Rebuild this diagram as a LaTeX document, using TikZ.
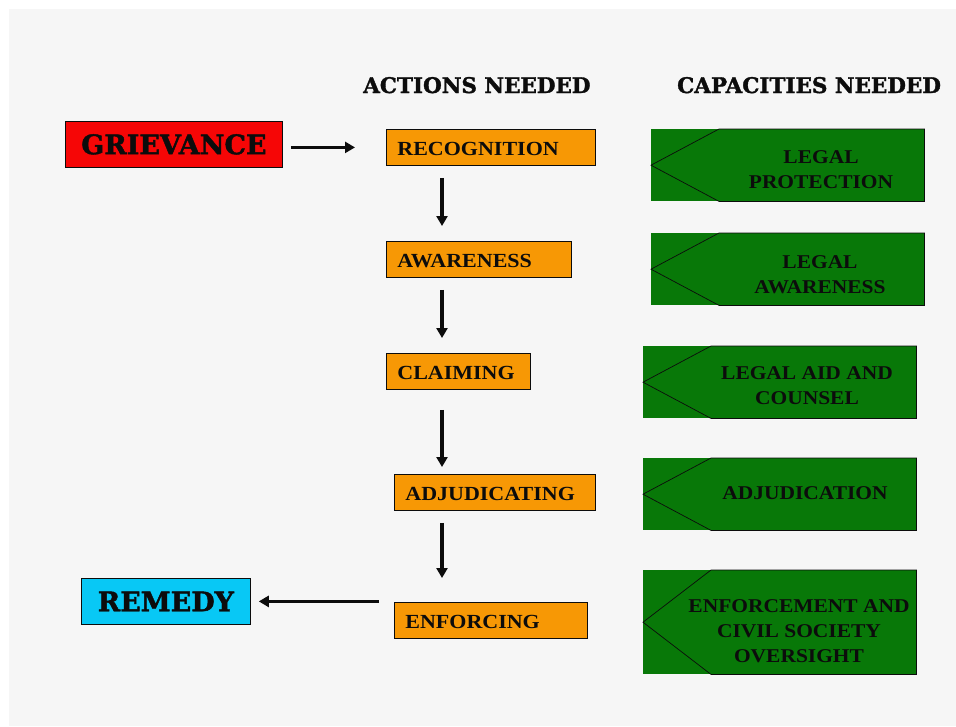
\documentclass[tikz,border=0pt]{standalone}
\usepackage{fontspec}
\usetikzlibrary{calc,arrows.meta}
\newfontfamily\boxfont[FakeStretch=1.1]{Liberation Serif}
\newfontfamily\headfont[FakeBold=1.6]{DejaVu Serif}
\definecolor{bgc}{RGB}{246,246,246}
\definecolor{redc}{RGB}{246,6,6}
\definecolor{cyanc}{RGB}{8,200,245}
\definecolor{orangec}{RGB}{247,152,5}
\definecolor{greenc}{RGB}{8,120,8}
\definecolor{inkc}{RGB}{12,12,12}
\tikzset{
  obox/.style={draw=inkc, fill=orangec, line width=0.8pt, anchor=north west,
    minimum height=36pt, inner xsep=11pt, inner ysep=0pt, align=left, text=inkc,
    text height=16pt, text depth=0pt,
    font=\boxfont\bfseries\fontsize{20}{24}\selectfont},
  endbox/.style={draw=inkc, line width=0.8pt, anchor=north west,
    minimum height=46pt, inner sep=0pt, text=inkc,
    font=\headfont\bfseries\fontsize{27}{32}\selectfont},
  headtxt/.style={anchor=base west, inner sep=0pt, text=inkc,
    font=\headfont\bfseries\fontsize{21.5}{25}\selectfont},
  gbox/.style={fill=greenc, anchor=north west, inner sep=0pt, minimum width=273pt},
  gline/.style={draw=inkc, line width=0.7pt, line join=miter},
  gtxt/.style={anchor=north, inner sep=0pt, align=center, text=inkc,
    font=\boxfont\bfseries\fontsize{19.5}{25}\selectfont},
  arr/.style={draw=inkc, line width=3.2pt, -{Triangle[length=10pt,width=11pt]}}
}
\begin{document}
\begin{tikzpicture}[x=1pt,y=-1pt]
\useasboundingbox (0,0) rectangle (956,726);
\fill[bgc] (9,9) rectangle (956,726);

% headings
\node[headtxt] (hact) at (363,93) {ACTIONS NEEDED};
\node[headtxt] (hcap) at (677,93) {CAPACITIES NEEDED};

% start / end
\node[endbox, fill=redc, minimum width=217pt] (griev) at (65,121) {GRIEVANCE};
\node[endbox, fill=cyanc, minimum width=169pt] (rem) at (81,578) {REMEDY};

% actions
\node[obox, text width=187pt] (rec) at (386,129) {RECOGNITION};
\node[obox, text width=163pt] (awa) at (386,241) {AWARENESS};
\node[obox, text width=122pt] (cla) at (386,353) {CLAIMING};
\node[obox, text width=179pt] (adj) at (394,474) {ADJUDICATING};
\node[obox, text width=171pt] (enf) at (394,602) {ENFORCING};

% arrows
\coordinate (ax) at (442,0);
\draw[arr, shorten <=8pt, shorten >=31pt] (griev.east |- rec.west) -- (rec.west);
\draw[arr, shorten <=12pt, shorten >=15pt] (rec.south -| ax) -- (awa.north -| ax);
\draw[arr, shorten <=12pt, shorten >=15pt] (awa.south -| ax) -- (cla.north -| ax);
\draw[arr, shorten <=20pt, shorten >=7pt] (cla.south -| ax) -- (adj.north -| ax);
\draw[arr, shorten <=12pt, shorten >=24pt] (adj.south -| ax) -- (enf.north -| ax);
\draw[arr, shorten <=15pt, shorten >=8pt] (enf.west |- rem.east) -- (rem.east);

% capacities
\node[gbox, minimum height=72pt] (g1) at (651,129) {};
\node[gbox, minimum height=72pt] (g2) at (651,233) {};
\node[gbox, minimum height=72pt] (g3) at (643,346) {};
\node[gbox, minimum height=72pt] (g4) at (643,458) {};
\node[gbox, minimum height=104pt] (g5) at (643,570) {};
\foreach \g in {g1,g2,g3,g4,g5}{
  \draw[gline] ($(\g.north west)+(68,0)$) -- (\g.west) -- ($(\g.south west)+(68,0)$)
    -- (\g.south east) -- (\g.north east) -- cycle;
}
\node[gtxt] (t1) at (821,150) {LEGAL\\PROTECTION};
\node[gtxt] (t2) at (820,255) {LEGAL\\AWARENESS};
\node[gtxt] (t3) at (807,366) {LEGAL AID AND\\COUNSEL};
\node[gtxt] (t4) at (805,486) {ADJUDICATION};
\node[gtxt] (t5) at (799,599) {ENFORCEMENT AND\\CIVIL SOCIETY\\OVERSIGHT};
\end{tikzpicture}
\end{document}
